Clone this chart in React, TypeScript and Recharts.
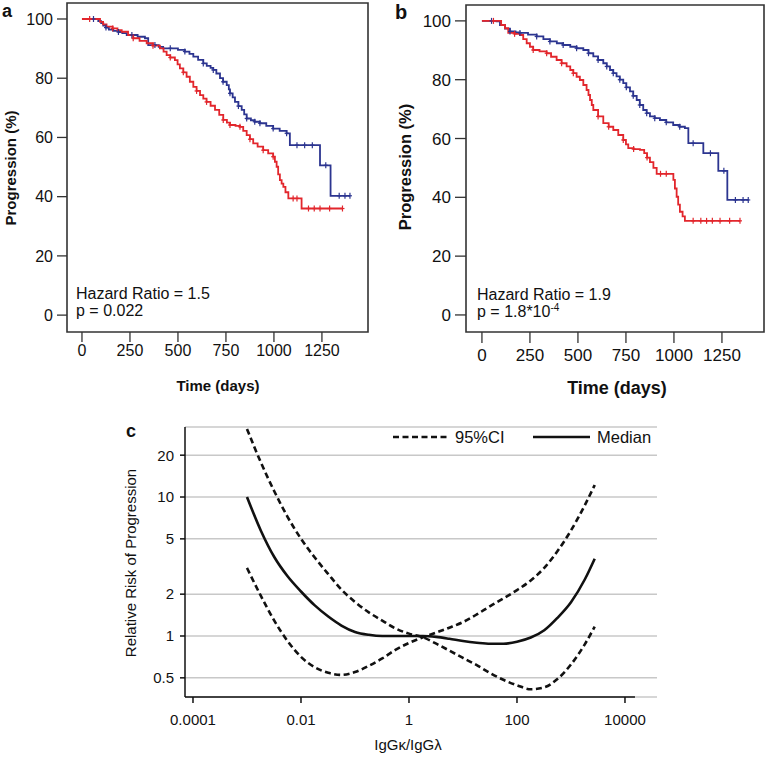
import React from 'react';
import {
  LineChart, Line, XAxis, YAxis, ReferenceArea, ReferenceLine, CartesianGrid,
} from 'recharts';

const FONT = '"Liberation Sans", Arial, Helvetica, sans-serif';
const BLUE = '#2c3590';
const RED = '#e2262c';

// ---- panel a: Kaplan-Meier (time in days, % progression-free, 1 = censored)
const aBlueTime = [0, 60, 85, 100, 111, 125, 140, 163, 190, 210, 233, 260, 290, 328, 345, 380, 400, 423, 460, 500, 536, 560, 580, 605, 632, 650, 670, 684, 700, 719, 735, 754, 765, 771, 785, 797, 815, 832, 845, 858, 880, 900, 927, 960, 996, 1030, 1066, 1083, 1120, 1160, 1200, 1240, 1270, 1295, 1340, 1370, 1396];
const aBlueSurv = [100, 100, 99.3, 98.6, 97.8, 97.1, 96.4, 96.0, 95.6, 95.2, 94.6, 94.6, 94.0, 93.5, 91.2, 91.2, 90.6, 90.1, 90.1, 89.6, 89.0, 88.2, 87.3, 86.2, 85.0, 84.2, 83.5, 82.8, 81.6, 80.0, 78.8, 77.7, 76.2, 74.9, 73.5, 72.0, 70.6, 69.3, 67.8, 66.4, 65.8, 65.3, 64.8, 63.9, 63.0, 62.2, 61.4, 57.4, 57.4, 57.4, 57.4, 50.6, 50.6, 40.3, 40.3, 40.3, 40.3];
const aBlueCens = [0, 1, 0, 0, 0, 1, 0, 0, 1, 0, 0, 1, 0, 0, 0, 1, 0, 0, 1, 0, 1, 0, 0, 0, 1, 0, 0, 1, 0, 0, 1, 0, 0, 1, 0, 0, 1, 0, 0, 1, 0, 1, 1, 0, 1, 0, 1, 0, 1, 1, 1, 0, 1, 0, 1, 1, 1];

const aRedTime = [0, 40, 94, 110, 128, 160, 185, 207, 240, 267, 300, 337, 370, 406, 425, 441, 460, 484, 498, 510, 528, 545, 562, 580, 597, 615, 632, 649, 670, 693, 715, 736, 755, 771, 800, 823, 840, 858, 875, 892, 915, 944, 970, 996, 1005, 1014, 1022, 1031, 1040, 1049, 1060, 1075, 1100, 1120, 1144, 1180, 1210, 1240, 1290, 1357];
const aRedSurv = [100, 100, 99.0, 98.2, 97.4, 96.8, 96.2, 95.7, 94.6, 93.5, 92.6, 91.8, 91.0, 90.1, 89.0, 87.8, 87.0, 86.1, 84.7, 83.3, 82.0, 80.5, 78.8, 77.1, 75.7, 74.3, 73.1, 72.0, 70.7, 69.3, 67.6, 65.9, 65.0, 64.2, 63.9, 63.6, 62.2, 60.8, 59.4, 58.0, 56.9, 55.7, 54.6, 53.5, 51.8, 50.1, 47.5, 45.6, 44.4, 43.3, 41.5, 39.4, 39.4, 39.4, 36.0, 36.0, 36.0, 36.0, 36.0, 36.0];
const aRedCens = [0, 1, 0, 0, 0, 1, 0, 0, 0, 1, 0, 0, 1, 0, 0, 0, 1, 0, 0, 0, 1, 0, 0, 0, 1, 0, 0, 1, 0, 0, 0, 1, 0, 1, 0, 1, 0, 0, 1, 0, 0, 1, 0, 1, 0, 0, 0, 0, 0, 0, 0, 0, 1, 1, 0, 1, 1, 1, 1, 1];

// ---- panel b
const bBlueTime = [0, 50, 76, 94, 120, 146, 175, 198, 240, 285, 320, 354, 390, 423, 460, 493, 528, 555, 580, 605, 632, 650, 667, 684, 701, 718, 736, 752, 771, 788, 806, 822, 840, 858, 875, 900, 927, 960, 996, 1030, 1057, 1075, 1100, 1135, 1153, 1190, 1222, 1231, 1260, 1278, 1320, 1360, 1387];
const bBlueSurv = [100, 100, 99.8, 98.6, 97.4, 96.4, 96.1, 95.9, 95.3, 94.7, 93.8, 93.0, 92.4, 91.8, 91.2, 90.7, 90.1, 89.0, 87.9, 86.7, 85.6, 84.5, 83.3, 82.2, 81.1, 80.0, 78.8, 77.4, 76.0, 74.5, 73.1, 71.4, 69.7, 68.6, 67.5, 66.9, 66.3, 65.5, 64.6, 64.0, 63.5, 58.4, 58.4, 58.4, 55.0, 55.0, 55.0, 49.0, 49.0, 39.1, 39.1, 39.1, 39.1];
const bBlueCens = [0, 1, 0, 0, 0, 1, 0, 1, 0, 1, 0, 1, 0, 1, 0, 1, 0, 1, 0, 1, 0, 1, 0, 1, 0, 1, 0, 1, 0, 1, 0, 1, 0, 1, 0, 1, 0, 1, 0, 1, 0, 0, 1, 0, 0, 1, 0, 0, 1, 0, 1, 1, 1];

const bRedTime = [0, 60, 100, 120, 137, 170, 198, 215, 233, 250, 267, 300, 337, 360, 389, 415, 441, 460, 476, 493, 510, 528, 545, 555, 563, 572, 580, 605, 632, 660, 684, 710, 736, 750, 762, 790, 823, 845, 860, 875, 893, 910, 930, 960, 988, 997, 1005, 1014, 1022, 1031, 1045, 1057, 1100, 1140, 1170, 1200, 1240, 1290, 1344];
const bRedSurv = [100, 100, 98.6, 97.5, 95.9, 95.6, 95.2, 93.8, 92.4, 91.2, 90.1, 89.6, 89.0, 87.8, 86.7, 85.6, 84.5, 83.3, 82.2, 81.0, 79.9, 78.2, 76.5, 74.8, 73.1, 71.4, 69.7, 67.5, 65.2, 64.0, 62.9, 61.2, 59.5, 58.0, 56.7, 56.4, 56.1, 55.0, 53.5, 52.0, 50.0, 48.0, 48.0, 48.0, 48.0, 45.9, 43.0, 40.2, 37.5, 35.1, 33.5, 32.0, 32.0, 32.0, 32.0, 32.0, 32.0, 32.0, 32.0];
const bRedCens = [0, 1, 0, 0, 0, 1, 0, 0, 0, 0, 1, 0, 1, 0, 0, 1, 0, 0, 1, 0, 0, 0, 0, 0, 0, 0, 0, 1, 0, 1, 0, 0, 1, 0, 0, 1, 0, 0, 1, 0, 0, 0, 1, 1, 0, 0, 0, 0, 0, 0, 0, 0, 1, 1, 1, 1, 1, 1, 1];

const kmTicks = [0, 250, 500, 750, 1000, 1250];
const pctTicks = [0, 20, 40, 60, 80, 100];

// ---- panel c: relative risk vs IgGk/IgGl ratio
const ratio = [0.001, 0.0018, 0.0032, 0.0056, 0.01, 0.018, 0.032, 0.056, 0.1, 0.18, 0.32, 0.56, 1, 1.8, 3.2, 5.6, 10, 18, 32, 56, 100, 180, 320, 560, 1000, 1800, 2750];
const median = [10, 5.75, 3.7, 2.7, 2.09, 1.66, 1.38, 1.19, 1.07, 1.02, 1.0, 1.0, 1.0, 1.0, 0.985, 0.955, 0.92, 0.895, 0.88, 0.88, 0.91, 0.975, 1.1, 1.35, 1.75, 2.55, 3.6];
const ciHighLeft = [30.9, 17.8, 11.0, 7.24, 5.01, 3.67, 2.79, 2.16, 1.76, 1.48, 1.29, 1.135, 1.04, 0.98, 0.88, 0.785, 0.695, 0.617, 0.54, 0.484, 0.442, 0.414, 0.427, 0.49, 0.624, 0.871, 1.167];
const ciLowLeft = [3.09, 1.95, 1.29, 0.923, 0.708, 0.596, 0.543, 0.525, 0.55, 0.61, 0.69, 0.794, 0.891, 0.977, 1.059, 1.148, 1.259, 1.429, 1.641, 1.862, 2.138, 2.512, 3.09, 4.07, 5.75, 8.71, 12.2];
const ratioTicks = [0.0001, 0.01, 1, 100, 10000];
const riskTicks = [0.5, 1, 2, 5, 10, 20];

const kmRows = (t: number[], s: number[], c: number[]) =>
  t.map((time, i) => ({ time, surv: s[i], cens: c[i] }));

const riskRows = ratio.map((r, i) => ({
  r, median: median[i], ciA: ciHighLeft[i], ciB: ciLowLeft[i],
}));

const censorDot = (color: string) => (props: any) => {
  const { cx, cy, payload, index } = props;
  if (!payload || !payload.cens) return <g key={`n${index}`} />;
  return (
    <g key={`c${index}`}>
      <line x1={cx} x2={cx} y1={cy - 3} y2={cy + 3} stroke={color} strokeWidth={1.2} />
      <line x1={cx - 2} x2={cx + 2} y1={cy} y2={cy} stroke={color} strokeWidth={1.2} />
    </g>
  );
};

function KmPanel({ left, box, xDom, yDom, blue, red, tickFont, tickMarginX, tickSizeX, tickSizeY }: any) {
  return (
    <div style={{ position: 'absolute', left, top: 0 }}>
      <LineChart width={383} height={400} margin={box}>
        <XAxis
          type="number" dataKey="time" domain={xDom} ticks={kmTicks} allowDataOverflow
          axisLine={false} tickLine={{ stroke: '#333', strokeWidth: 1.3 }} tickSize={tickSizeX}
          tickMargin={tickMarginX} height={30}
          tick={{ fill: '#111', fontSize: tickFont, fontFamily: FONT }}
        />
        <YAxis
          type="number" domain={yDom} ticks={pctTicks} allowDataOverflow
          axisLine={false} tickLine={{ stroke: '#333', strokeWidth: 1.3 }} tickSize={tickSizeY}
          tickMargin={4} width={box.yw}
          tick={{ fill: '#111', fontSize: tickFont, fontFamily: FONT }}
        />
        <ReferenceArea x1={xDom[0]} x2={xDom[1]} y1={yDom[0]} y2={yDom[1]} fill="none"
          stroke="#333" strokeWidth={1.6} ifOverflow="visible" />
        <Line data={blue} dataKey="surv" type="stepAfter" stroke={BLUE} strokeWidth={1.8}
          dot={censorDot(BLUE)} activeDot={false} isAnimationActive={false} />
        <Line data={red} dataKey="surv" type="stepAfter" stroke={RED} strokeWidth={1.8}
          dot={censorDot(RED)} activeDot={false} isAnimationActive={false} />
      </LineChart>
    </div>
  );
}

export default function App() {
  const cxDom = [Math.pow(10, -4.148), Math.pow(10, 4.593)];
  const cyDom = [0.364, 31.9];
  return (
    <div style={{ position: 'absolute', left: 0, top: 0, width: 766, height: 757, background: '#fff', fontFamily: FONT }}>
      <KmPanel
        left={0}
        box={{ top: 3, right: 15, bottom: 38, left: 0, yw: 67 }}
        xDom={[-78, 1490]} yDom={[-5.7, 105.4]}
        blue={kmRows(aBlueTime, aBlueSurv, aBlueCens)}
        red={kmRows(aRedTime, aRedSurv, aRedCens)}
        tickFont={16} tickMarginX={3} tickSizeX={10} tickSizeY={10}
      />
      <KmPanel
        left={383}
        box={{ top: 5, right: 2, bottom: 38, left: 0, yw: 83 }}
        xDom={[-83, 1469]} yDom={[-5.8, 105.4]}
        blue={kmRows(bBlueTime, bBlueSurv, bBlueCens)}
        red={kmRows(bRedTime, bRedSurv, bRedCens)}
        tickFont={17} tickMarginX={6} tickSizeX={11} tickSizeY={11}
      />

      <div style={{ position: 'absolute', left: 100, top: 400 }}>
        <LineChart width={570} height={357} data={riskRows} margin={{ top: 27, right: 13, bottom: 30, left: 0 }}>
          <CartesianGrid vertical={false} stroke="#c8c8c8" strokeWidth={1.5} />
          <XAxis
            type="number" dataKey="r" scale="log" domain={cxDom} ticks={ratioTicks} allowDataOverflow
            axisLine={false} tickLine={{ stroke: '#111', strokeWidth: 1.5 }} tickSize={6} tickMargin={11}
            height={30} tickFormatter={(v: number) => String(v)}
            tick={{ fill: '#111', fontSize: 15, fontFamily: FONT }}
          />
          <YAxis
            type="number" scale="log" domain={cyDom} ticks={riskTicks} allowDataOverflow width={85}
            axisLine={{ stroke: '#111', strokeWidth: 1.5 }} tickLine={{ stroke: '#111', strokeWidth: 1.5 }}
            tickSize={5} tickMargin={6}
            tick={{ fill: '#111', fontSize: 15, fontFamily: FONT }}
          />
          <ReferenceLine
            segment={[{ x: cxDom[0], y: cyDom[0] }, { x: Math.pow(10, 4.185), y: cyDom[0] }]}
            stroke="#111" strokeWidth={1.5} ifOverflow="visible"
          />
          <Line dataKey="ciA" type="monotone" stroke="#111" strokeWidth={2.6} strokeDasharray="6 3.5"
            dot={false} activeDot={false} isAnimationActive={false} />
          <Line dataKey="ciB" type="monotone" stroke="#111" strokeWidth={2.6} strokeDasharray="6 3.5"
            dot={false} activeDot={false} isAnimationActive={false} />
          <Line dataKey="median" type="monotone" stroke="#111" strokeWidth={2.6}
            dot={false} activeDot={false} isAnimationActive={false} />
        </LineChart>
      </div>

      <svg width={766} height={757} style={{ position: 'absolute', left: 0, top: 0, pointerEvents: 'none' }}
        fontFamily={FONT} fill="#111">
        {/* panel letters */}
        <text x={2} y={17} fontSize={18} fontWeight="bold">a</text>
        <text x={395} y={19} fontSize={20} fontWeight="bold">b</text>
        <text x={126} y={437} fontSize={18} fontWeight="bold">c</text>

        {/* panel a texts */}
        <text x={76} y={299} fontSize={16}>Hazard Ratio = 1.5</text>
        <text x={76} y={316} fontSize={16}>p = 0.022</text>
        <text x={218} y={391} fontSize={15} fontWeight="bold" textAnchor="middle">Time (days)</text>
        <text transform="translate(10,168) rotate(-90)" fontSize={15} fontWeight="bold" textAnchor="middle"
          dominantBaseline="central">Progression (%)</text>

        {/* panel b texts */}
        <text x={477} y={300} fontSize={16}>Hazard Ratio = 1.9</text>
        <text x={477} y={317} fontSize={16}>
          p = 1.8*10<tspan dy={-6} fontSize={10}>-4</tspan>
        </text>
        <text x={617} y={394} fontSize={18} fontWeight="bold" textAnchor="middle">Time (days)</text>
        <text transform="translate(405,167) rotate(-90)" fontSize={16.5} fontWeight="bold" textAnchor="middle"
          dominantBaseline="central">Progression (%)</text>

        {/* panel c texts + legend */}
        <text transform="translate(130,563) rotate(-90)" fontSize={15} textAnchor="middle"
          dominantBaseline="central">Relative Risk of Progression</text>
        <text x={408} y={750} fontSize={15} textAnchor="middle">IgGκ/IgGλ</text>
        <line x1={393} x2={448} y1={437} y2={437} stroke="#111" strokeWidth={2.6} strokeDasharray="6 3.5" />
        <text x={455} y={443} fontSize={16.5}>95%CI</text>
        <line x1={533} x2={590} y1={437} y2={437} stroke="#111" strokeWidth={2.6} />
        <text x={597} y={443} fontSize={16.5}>Median</text>
      </svg>
    </div>
  );
}
